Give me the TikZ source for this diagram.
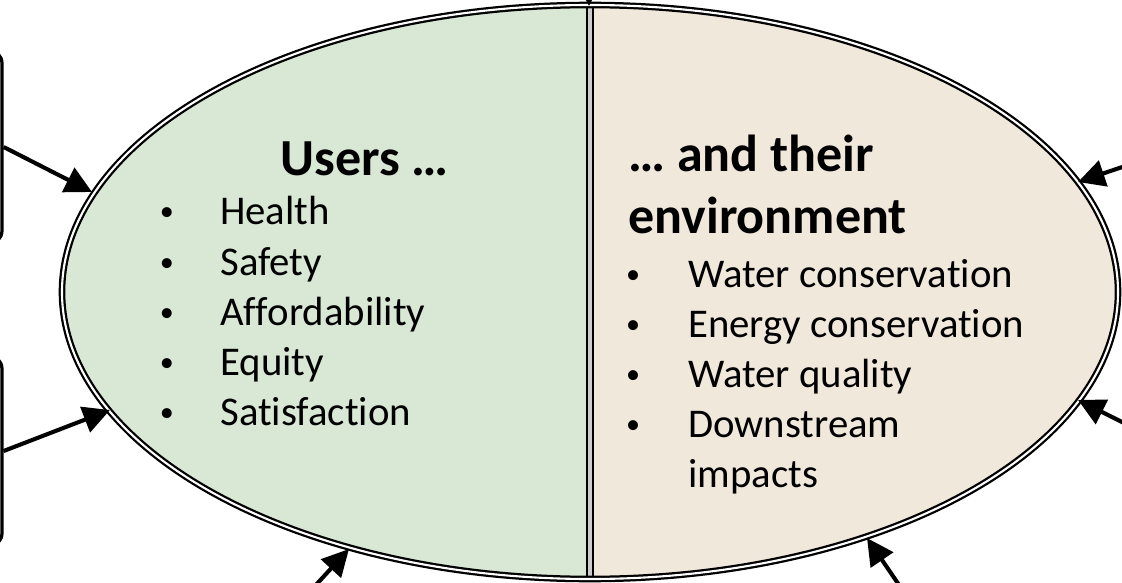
\documentclass[tikz,border=0pt]{standalone}
\usepackage{fontspec}
\setmainfont{Carlito}[Ligatures={NoCommon},Contextuals={NoAlternate}]
\usetikzlibrary{arrows.meta}
\definecolor{usergreen}{RGB}{216,232,212}
\definecolor{envbeige}{RGB}{241,232,220}
\newcommand\nolig{\kern0pt }
\tikzset{
  feed/.style={line width=2.9pt,-{Triangle[length=19pt,width=19pt]}},
  side/.style={draw,line width=2.3pt,rounded corners=10pt,fill=white,minimum width=5.1cm},
  head/.style={font=\fontsize{37}{44}\selectfont\bfseries,anchor=base west,inner sep=0pt},
  item/.style={font=\fontsize{29}{35}\selectfont,anchor=base west,inner sep=0pt},
  dot/.style={font=\fontsize{20}{24}\selectfont,anchor=base,inner sep=0pt},
}
\begin{document}
\begin{tikzpicture}[x=0.025cm,y=-0.025cm]
\path[use as bounding box,clip](0,0) rectangle (1122,583);
\coordinate (c) at (590,292);
% two halves of the oval
\begin{scope}
\clip (c) ellipse [x radius=528,y radius=287];
\fill[usergreen](0,0) rectangle (590,583);
\fill[envbeige](590,0) rectangle (1122,583);
\draw[line width=1.6pt,double=gray!40,double distance=2.6pt](590,0)--(590,583);
\end{scope}
\draw[line width=1.6pt,double=white,double distance=1.5pt](c) ellipse [x radius=528,y radius=287];
% boxes cut by the left edge
\node[side,minimum height=4.875cm] (srcA) at (-100,147) {};
\node[side,minimum height=4.8cm] (srcB) at (-100,451) {};
\coordinate (inA) at (92,192);
\coordinate (inB) at (110,410);
\coordinate (inC) at (349,549);
\coordinate (fromC) at (302,600);
\coordinate (inD) at (867,538);
\coordinate (fromD) at (910,601);
\coordinate (inE) at (1078,182);
\coordinate (fromE) at (1140,161);
\coordinate (inF) at (1078,400);
\coordinate (fromF) at (1140,431);
\coordinate (inG) at (589,6);
\coordinate (fromG) at (589,-40);
\draw[feed](srcA.east)--(inA);
\draw[feed](srcB.east)--(inB);
\draw[feed](fromC)--(inC);
\draw[feed](fromD)--(inD);
\draw[feed](fromE)--(inE);
\draw[feed](fromF)--(inF);
\draw[feed](fromG)--(inG);
% texts
\node[head] (users) at (280,176) {Users …};
\foreach \txt [count=\i] in {Health,Safety,Affordability,Equity,Satisfact\nolig ion}{
  \node[dot] (dotU\i) at (167,171+50*\i) {•};
  \node[item] (user\i) at (220,175+50*\i) {\txt};
}
\node[head] (envA) at (628,172) {… and their};
\node[head] (envB) at (628,233) {environment};
\foreach \txt [count=\i] in {Water conservat\nolig ion,Energy conservat\nolig ion,Water quality,Downstream}{
  \node[dot] (dotE\i) at (633,233+50*\i) {•};
  \node[item] (env\i) at (688,237+50*\i) {\txt};
}
\node[item] (env5) at (688,487) {impacts};
\end{tikzpicture}
\end{document}
